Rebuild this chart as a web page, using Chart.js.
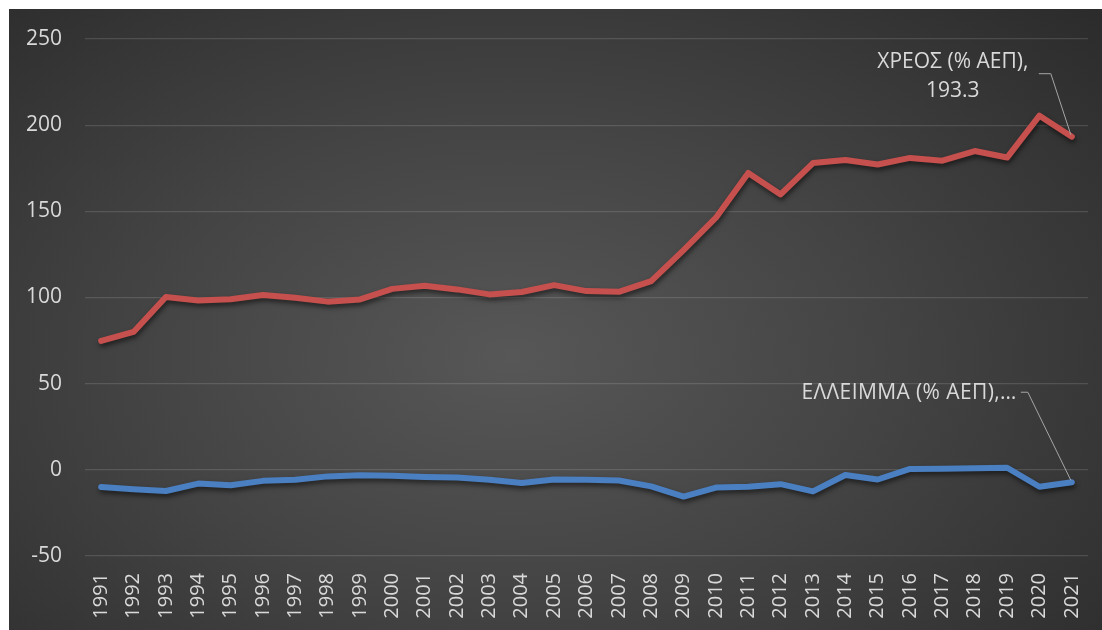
<!DOCTYPE html>
<html>
<head>
<meta charset="utf-8">
<script src="https://cdn.jsdelivr.net/npm/chart.js@4.4.1/dist/chart.umd.min.js"></script>
<style>
  html, body { margin: 0; padding: 0; background: #ffffff; }
  #wrap {
    position: absolute; left: 9px; top: 9px; width: 1093px; height: 621px;
    background: radial-gradient(ellipse 75% 85% at 46% 56%, #575757 0%, #444444 45%, #2a2a2a 100%);
  }
  canvas { display: block; }
</style>
</head>
<body>
<div id="wrap"><canvas id="c" width="1093" height="621"></canvas></div>
<script>
const years = ["1991","1992","1993","1994","1995","1996","1997","1998","1999","2000",
  "2001","2002","2003","2004","2005","2006","2007","2008","2009","2010",
  "2011","2012","2013","2014","2015","2016","2017","2018","2019","2020","2021"];
const debt = [74.8, 80.0, 100.3, 98.3, 99.0, 101.4, 99.8, 97.6, 98.9, 105.0,
  106.8, 104.7, 101.8, 103.2, 107.2, 103.7, 103.3, 109.5, 127.5, 146.3,
  172.3, 159.8, 178.0, 179.8, 177.2, 181.0, 179.4, 185.0, 181.2, 205.5, 193.3];
const deficit = [-10.0, -11.3, -12.3, -8.0, -9.0, -6.4, -5.8, -3.8, -3.1, -3.5,
  -4.1, -4.5, -5.7, -7.6, -5.6, -5.8, -6.2, -9.6, -15.5, -10.3,
  -9.8, -8.3, -12.5, -3.0, -5.6, 0.5, 0.6, 0.9, 1.2, -9.8, -7.2];
const yTicks = [-50, 0, 50, 100, 150, 200, 250];
const seriesNames = ["ΧΡΕΟΣ (% ΑΕΠ)", "ΕΛΛΕΙΜΜΑ (% ΑΕΠ)"];

const FONT = "'Open Sans', 'Noto Sans', sans-serif";
const TXT = '#d9d9d9';

const shadowPlugin = {
  id: 'shadow',
  beforeDatasetsDraw(chart) {
    const ctx = chart.ctx;
    ctx.save();
    ctx.shadowColor = 'rgba(0,0,0,0.55)';
    ctx.shadowBlur = 5;
    ctx.shadowOffsetX = 1;
    ctx.shadowOffsetY = 3;
  },
  afterDatasetsDraw(chart) {
    chart.ctx.restore();
  }
};

const labelPlugin = {
  id: 'labels',
  afterDraw(chart) {
    const ctx = chart.ctx;
    ctx.save();
    ctx.font = "21px " + FONT;
    ctx.fillStyle = TXT;
    ctx.strokeStyle = '#a6a6a6';
    ctx.lineWidth = 1;
    // debt label
    const m0 = chart.getDatasetMeta(0);
    const p0 = m0.data[m0.data.length - 1];
    ctx.beginPath();
    ctx.moveTo(p0.x - 1, p0.y - 2);
    ctx.lineTo(p0.x - 21, p0.y - 63);
    ctx.lineTo(p0.x - 33, p0.y - 63);
    ctx.stroke();
    ctx.textAlign = 'center';
    ctx.textBaseline = 'middle';
    ctx.fillText(seriesNames[0] + ",", p0.x - 119, p0.y - 75);
    ctx.fillText(debt[debt.length - 1].toFixed(1), p0.x - 119, p0.y - 46);
    // deficit label
    const m1 = chart.getDatasetMeta(1);
    const p1 = m1.data[m1.data.length - 1];
    ctx.beginPath();
    ctx.moveTo(p1.x - 1, p1.y - 2);
    ctx.lineTo(p1.x - 44, p1.y - 90);
    ctx.lineTo(p1.x - 51, p1.y - 90);
    ctx.stroke();
    ctx.textAlign = 'right';
    ctx.letterSpacing = '0.4px';
    ctx.fillText(seriesNames[1] + ",…", p1.x - 55, p1.y - 89);
    ctx.restore();
  }
};

new Chart(document.getElementById('c'), {
  type: 'line',
  data: {
    labels: years,
    datasets: [
      { label: seriesNames[0], data: debt, borderColor: '#c5504d', borderWidth: 6,
        pointRadius: 0, borderCapStyle: 'round', borderJoinStyle: 'round', tension: 0 },
      { label: seriesNames[1], data: deficit, borderColor: '#4a7fc2', borderWidth: 6,
        pointRadius: 0, borderCapStyle: 'round', borderJoinStyle: 'round', tension: 0 }
    ]
  },
  options: {
    responsive: false,
    animation: false,
    devicePixelRatio: 1,
    layout: { padding: { left: 0, right: 14, top: 30, bottom: 0 } },
    plugins: { legend: { display: false }, tooltip: { enabled: false }, title: { display: false } },
    scales: {
      x: {
        offset: true,
        grid: { display: false, drawTicks: false },
        border: { display: false },
        ticks: { color: TXT, font: { family: FONT, size: 20 }, maxRotation: 90, minRotation: 90, padding: 17, autoSkip: false },
        afterFit(scale) { scale.height = 74; scale.paddingLeft = 0; scale.paddingRight = 0; }
      },
      y: {
        min: -50, max: 250,
        afterBuildTicks(scale) { scale.ticks = yTicks.map(v => ({ value: v })); },
        grid: { color: 'rgba(255,255,255,0.13)', lineWidth: 1.3, drawTicks: false },
        border: { display: false },
        ticks: { color: TXT, font: { family: FONT, size: 21 }, padding: 23 },
        afterFit(scale) { scale.width = 76; scale.paddingTop = 0; scale.paddingBottom = 0; }
      }
    }
  },
  plugins: [shadowPlugin, labelPlugin]
});
</script>
</body>
</html>
